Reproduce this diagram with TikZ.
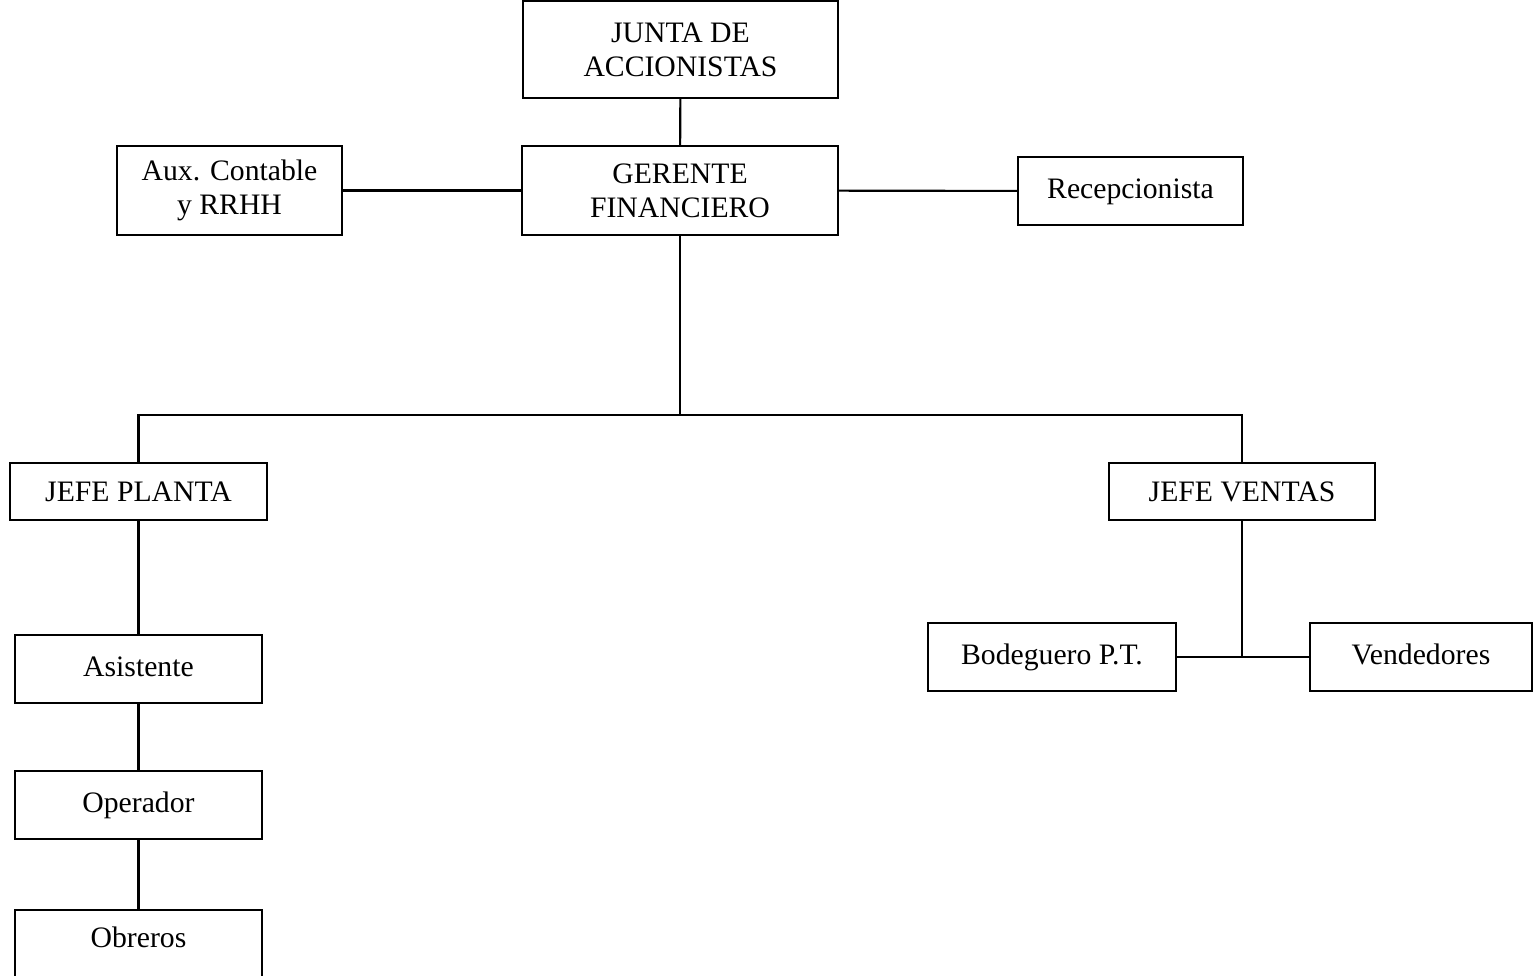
\documentclass[tikz,border=0pt]{standalone}
\usepackage{fontspec}
\setmainfont{Liberation Serif}
\begin{document}
\begin{tikzpicture}[
    box/.style={draw, line width=1.2pt, inner sep=0pt, align=center,
      font=\fontsize{16.9}{19.3}\selectfont},
    oneline/.style={box, text height=12pt, text depth=4pt},
    capsline/.style={box, text height=11pt, text depth=0pt},
    line width=1.2pt]
      \path[use as bounding box, clip] (0,0) rectangle (30.66,-19.5);
      \draw
        (13.61,-0.99) node[box, minimum width=6.30cm, minimum height=1.94cm] (junta){JUNTA DE\\ACCIONISTAS}
        (13.60,-3.81) node[box, minimum width=6.32cm, minimum height=1.78cm] (gerente){GERENTE\\FINANCIERO}
        (4.59,-3.81) node[box, minimum width=4.50cm, minimum height=1.78cm] (aux){Aux. Contable\\y RRHH}
        (22.61,-3.82) node[oneline, minimum width=4.50cm, minimum height=1.36cm] (recep){Recepcionista}
        (2.77,-9.83) node[capsline, minimum width=5.14cm, minimum height=1.14cm] (planta){JEFE PLANTA}
        (24.84,-9.83) node[capsline, minimum width=5.32cm, minimum height=1.14cm] (ventas){JEFE VENTAS}
        (2.77,-13.38) node[oneline, minimum width=4.94cm, minimum height=1.36cm] (asist){Asistente}
        (2.77,-16.10) node[oneline, minimum width=4.94cm, minimum height=1.36cm] (oper){Operador}
        (2.77,-18.95) node[box, minimum width=4.94cm, minimum height=1.50cm] (obreros){}
        (21.04,-13.14) node[oneline, minimum width=4.96cm, minimum height=1.36cm] (bodeg){Bodeguero P.T.}
        (28.42,-13.14) node[oneline, minimum width=4.44cm, minimum height=1.36cm] (vend){Vendedores};
      \node[oneline, draw=none] at (2.77,-18.80) (obrerostxt){Obreros};
      \coordinate (bus) at (13.60,-8.30);
      \coordinate (split) at (24.84,-13.14);
      \begin{scope}[-]
        \draw (junta) to (gerente);
        \draw (aux) to (gerente);
        \draw (gerente) to (recep);
        \draw (gerente.south) to (bus);
        \draw (planta.north) |- (bus) -| (ventas.north);
        \draw (planta) to (asist);
        \draw (asist) to (oper);
        \draw (oper) to (obreros);
        \draw (ventas.south) to (split);
        \draw (bodeg) to (vend);
      \end{scope}
    \end{tikzpicture}
\end{document}
